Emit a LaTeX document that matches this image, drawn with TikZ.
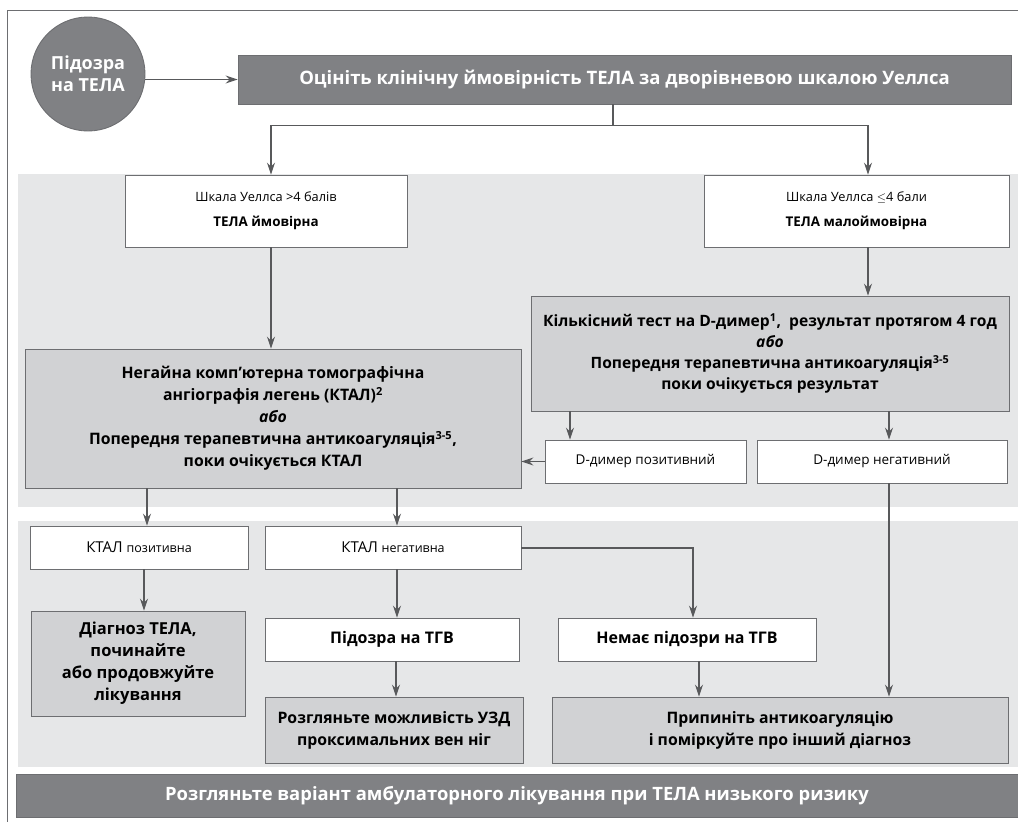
\documentclass[tikz,border=0pt]{standalone}
\usepackage{fontspec}
\setmainfont{Open Sans}
\usetikzlibrary{arrows.meta}
\definecolor{dk}{HTML}{808184}
\definecolor{pn}{HTML}{E6E7E8}
\definecolor{md}{HTML}{D1D2D4}
\definecolor{ln}{HTML}{6D6E71}
\definecolor{ar}{HTML}{58595B}
\tikzset{
  box/.style={draw=ln, line width=0.9pt, align=center, inner sep=2pt, font=\fontsize{13.5}{20}\selectfont},
  wbox/.style={box, fill=white},
  gbox/.style={box, fill=md, font=\fontsize{15.8}{22}\selectfont\bfseries},
  dbox/.style={fill=dk, draw=ln, line width=0.9pt, text=white, align=center, font=\fontsize{18.5}{21}\selectfont\bfseries},
  arr/.style={draw=ar, line width=1.1pt, -{Stealth[length=12pt,width=8pt,inset=4pt]}},
}
\begin{document}
\begin{tikzpicture}[x=1pt,y=-1pt]
  \useasboundingbox (0,0) rectangle (1018,822);
  \fill[pn] (18,174) rectangle (1018,507);
  \fill[pn] (18,521) rectangle (1018,767);
  \draw[ln, line width=1pt] (7,822) -- (7,10) -- (1018,10);

  \node[dbox, circle, minimum size=114pt, inner sep=0pt, font=\fontsize{18}{22}\selectfont\bfseries] (s0) at (88,74) {Підозра\\на ТЕЛА};
  \node[dbox, minimum width=773pt, minimum height=49pt] (a0) at (624.5,79.5) {Оцініть клінічну ймовірність ТЕЛА за дворівневою шкалою Уеллса};
  \node[wbox, minimum width=282pt, minimum height=72pt, font=\fontsize{12.8}{25}\selectfont] (w1) at (266,211) {Шкала Уеллса >4 балів\\{\fontsize{13.4}{18}\selectfont\bfseries ТЕЛА ймовірна}};
  \node[wbox, minimum width=305pt, minimum height=72pt, font=\fontsize{12.8}{25}\selectfont] (w2) at (856.5,211) {Шкала Уеллса $\le$4 бали\\{\fontsize{13.4}{18}\selectfont\bfseries ТЕЛА малоймовірна}};
  \node[gbox, minimum width=496pt, minimum height=139pt] (c1) at (273,418.5) {Негайна комп’ютерна томографічна\\ангіографія легень (КТАЛ)\textsuperscript{2}\\\textit{або}\\Попередня терапевтична антикоагуляція\textsuperscript{3-5},\\поки очікується КТАЛ};
  \node[gbox, minimum width=478pt, minimum height=115pt, font=\fontsize{15.6}{21}\selectfont\bfseries] (d1) at (770,353.5) {Кількісний тест на D-димер\textsuperscript{1}, \ результат протягом 4 год\\\textit{або}\\Попередня терапевтична антикоагуляція\textsuperscript{3-5}\\поки очікується результат};
  \node[wbox, minimum width=201pt, minimum height=43pt] (dp) at (645.5,461.5) {D-димер позитивний};
  \node[wbox, minimum width=250pt, minimum height=43pt] (dn) at (882,461.5) {D-димер негативний};
  \node[wbox, minimum width=218pt, minimum height=43pt] (kp) at (139,547.5) {\fontsize{15}{18}\selectfont КТАЛ {\fontsize{12.5}{15}\selectfont позитивна}};
  \node[wbox, minimum width=256pt, minimum height=43pt] (kn) at (393,547.5) {\fontsize{15}{18}\selectfont КТАЛ {\fontsize{12.5}{15}\selectfont негативна}};
  \node[gbox, minimum width=214pt, minimum height=105pt, font=\fontsize{16.5}{22}\selectfont\bfseries] (dx) at (138,663.5) {Діагноз ТЕЛА,\\починайте\\або продовжуйте\\лікування};
  \node[wbox, minimum width=254pt, minimum height=43pt, font=\fontsize{16}{20}\selectfont\bfseries] (t1) at (392,639.5) {Підозра на ТГВ};
  \node[wbox, minimum width=258pt, minimum height=43pt, font=\fontsize{16}{20}\selectfont\bfseries] (t2) at (687,639.5) {Немає підозри на ТГВ};
  \node[gbox, minimum width=258pt, minimum height=66pt] (u1) at (394,730) {Розгляньте можливість УЗД\\проксимальних вен ніг};
  \node[gbox, minimum width=456pt, minimum height=66pt] (p1) at (780,730) {Припиніть антикоагуляцію\\і поміркуйте про інший діагноз};
  \node[dbox, minimum width=1002pt, minimum height=43pt, font=\fontsize{18.4}{21}\selectfont\bfseries] (b0) at (517,795.5) {Розгляньте варіант амбулаторного лікування при ТЕЛА низького ризику};

  \draw[arr] (s0.east |- a0.west) -- (a0.west);
  \draw[draw=ar, line width=1.1pt] ([xshift=-11.5pt]a0.south) -- ++(0,21) coordinate (j0);
  \draw[arr] (j0) -| ([xshift=5pt]w1.north);
  \draw[arr] (j0) -| ([xshift=11.5pt]w2.north);
  \draw[arr] ([xshift=5pt]w1.south) -- ([xshift=5pt]w1.south |- c1.north);
  \draw[arr] ([xshift=11.5pt]w2.south) -- ([xshift=11.5pt]w2.south |- d1.north);
  \draw[arr] ([xshift=-75.5pt]dp.north |- d1.south) -- ([xshift=-75.5pt]dp.north);
  \draw[arr] ([xshift=7pt]dn.north |- d1.south) -- ([xshift=7pt]dn.north);
  \draw[arr] (dp.west) -- (dp.west -| c1.east);
  \draw[arr] ([xshift=8pt]kp.north |- c1.south) -- ([xshift=8pt]kp.north);
  \draw[arr] ([xshift=4pt]kn.north |- c1.south) -- ([xshift=4pt]kn.north);
  \draw[arr] ([xshift=5pt]kp.south) -- ([xshift=5pt]kp.south |- dx.north);
  \draw[arr] ([xshift=4pt]kn.south) -- ([xshift=4pt]kn.south |- t1.north);
  \draw[arr] ([yshift=-0.5pt]kn.east) -| ([xshift=6pt]t2.north);
  \draw[arr] ([xshift=4pt]t1.south) -- ([xshift=4pt]t1.south |- u1.north);
  \draw[arr] ([xshift=12pt]t2.south) -- ([xshift=12pt]t2.south |- p1.north);
  \draw[arr] ([xshift=7pt]dn.south) -- ([xshift=7pt]dn.south |- p1.north);
\end{tikzpicture}
\end{document}
